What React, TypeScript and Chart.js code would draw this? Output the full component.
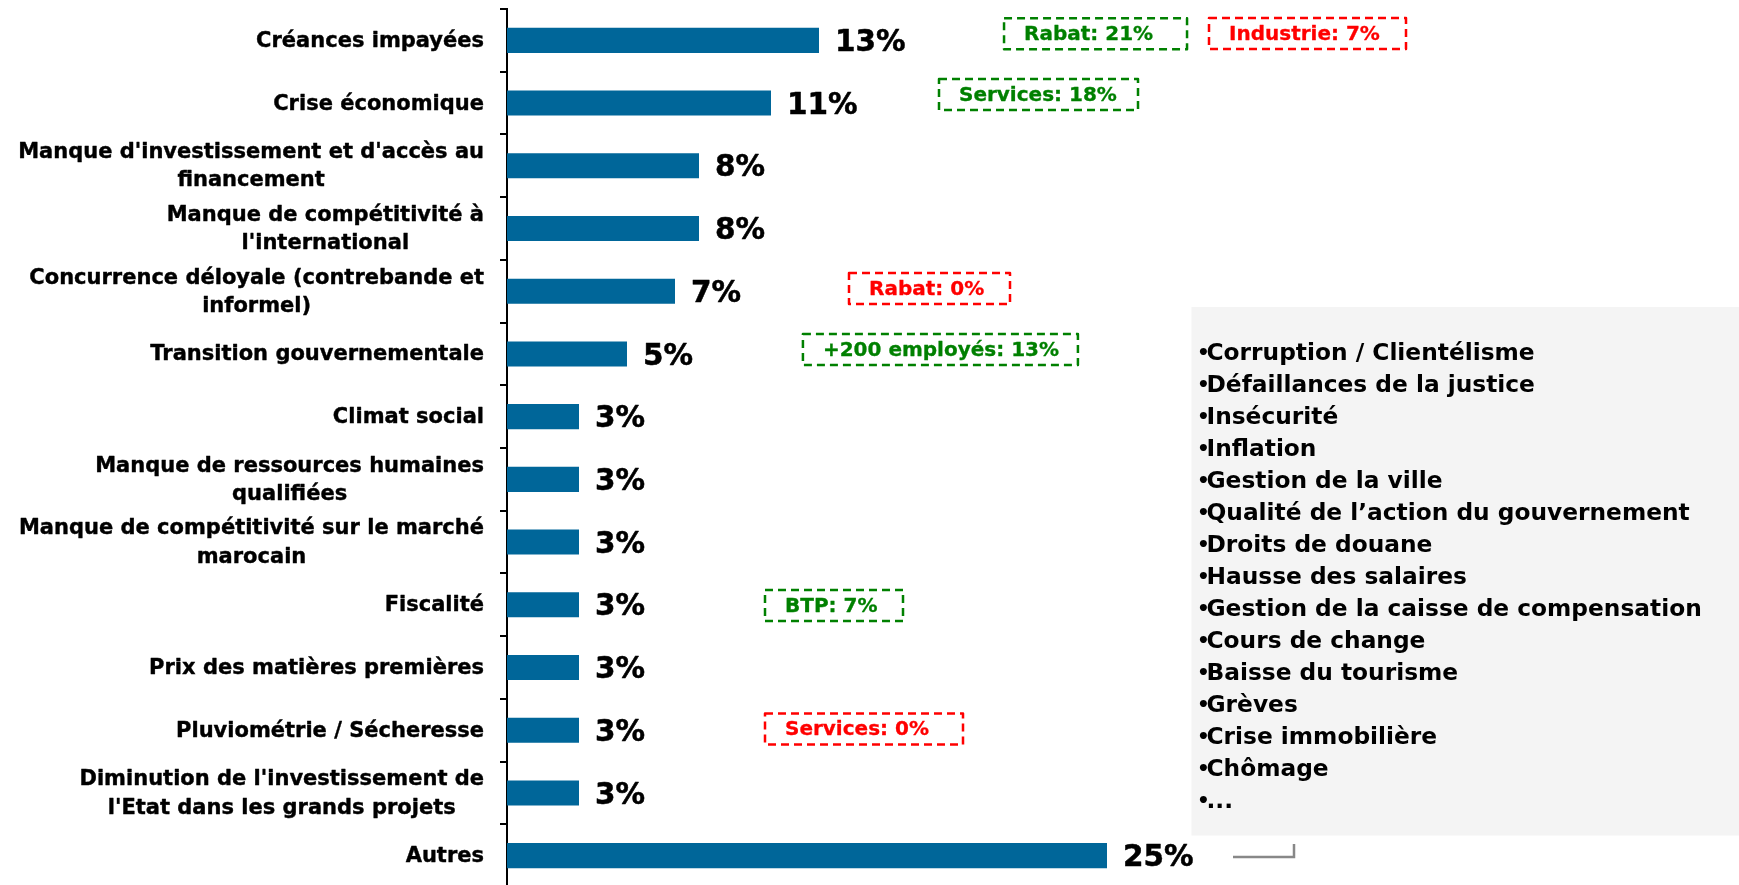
import React, { useEffect, useRef } from "react";
import { Chart, registerables } from "chart.js";

Chart.register(...registerables);

const categories: string[][] = [
  ["Créances impayées"],
  ["Crise économique"],
  ["Manque d'investissement et d'accès au", "financement"],
  ["Manque de compétitivité à", "l'international"],
  ["Concurrence déloyale (contrebande et", "informel)"],
  ["Transition gouvernementale"],
  ["Climat social"],
  ["Manque de ressources humaines", "qualifiées"],
  ["Manque de compétitivité sur le marché", "marocain"],
  ["Fiscalité"],
  ["Prix des matières premières"],
  ["Pluviométrie / Sécheresse"],
  ["Diminution de l'investissement de", "l'Etat dans les grands projets"],
  ["Autres"],
];

const values: number[] = [13, 11, 8, 8, 7, 5, 3, 3, 3, 3, 3, 3, 3, 25];

const calloutTexts: string[] = [
  "Rabat: 21%",
  "Industrie: 7%",
  "Services: 18%",
  "Rabat: 0%",
  "+200 employés: 13%",
  "BTP: 7%",
  "Services: 0%",
];
const calloutPositive: boolean[] = [true, false, true, false, true, true, false];
const calloutRows: number[] = [0, 0, 1, 4, 5, 9, 11];

const otherReasons: string[] = [
  "Corruption / Clientélisme",
  "Défaillances de la justice",
  "Insécurité",
  "Inflation",
  "Gestion de la ville",
  "Qualité de l’action du gouvernement",
  "Droits de douane",
  "Hausse des salaires",
  "Gestion de la caisse de compensation",
  "Cours de change",
  "Baisse du tourisme",
  "Grèves",
  "Crise immobilière",
  "Chômage",
  "...",
];

// layout of callout boxes (x start in axis units, width px, vertical offset px)
const calloutLayout = [
  { x: 20.71, w: 183, dy: -6.7 },
  { x: 29.25, w: 197, dy: -6.9 },
  { x: 18.0, w: 199, dy: -8.6 },
  { x: 14.25, w: 161, dy: -2.7 },
  { x: 12.33, w: 275, dy: -4.4 },
  { x: 10.75, w: 138, dy: 0.7 },
  { x: 10.75, w: 198, dy: -1.2 },
];

const FONT = "'DejaVu Sans', Verdana, sans-serif";
const BAR_COLOR = "#006699";

function boldText(ctx: any, t: string, x: number, y: number, w: number) {
  ctx.fillText(t, x, y);
  if (w > 0) {
    ctx.lineWidth = w;
    ctx.strokeStyle = ctx.fillStyle;
    ctx.strokeText(t, x, y);
  }
}

const overlayPlugin = {
  id: "overlay",
  beforeDatasetsDraw(chart: any) {
    const ctx = chart.ctx;
    ctx.save();
    // grey box with other reasons
    ctx.fillStyle = "#f4f4f4";
    ctx.fillRect(1191.5, 307, chart.width - 1191.5, 835.5 - 307);
    ctx.fillStyle = "#000";
    ctx.textAlign = "left";
    ctx.textBaseline = "middle";
    otherReasons.forEach((t, i) => {
      const y = 354 + i * 32;
      ctx.font = `bold 20px ${FONT}`;
      ctx.fillText("•", 1197, y);
      ctx.font = `bold 23.3px ${FONT}`;
      ctx.fillText(t, 1206.5, y);
    });
    // small grey bracket
    ctx.strokeStyle = "#888";
    ctx.lineWidth = 2.5;
    ctx.beginPath();
    ctx.moveTo(1233, 857);
    ctx.lineTo(1294, 857);
    ctx.lineTo(1294, 844);
    ctx.stroke();
    ctx.restore();
  },
  afterDraw(chart: any) {
    const ctx = chart.ctx;
    const yScale = chart.scales.y;
    const xScale = chart.scales.x;
    ctx.save();
    // category labels: block right-aligned, lines centered
    ctx.fillStyle = "#000";
    ctx.font = `bold 21px ${FONT}`;
    ctx.textBaseline = "middle";
    ctx.textAlign = "center";
    ctx.lineJoin = "round";
    const right = yScale.right - 23;
    const lh = 28.3;
    categories.forEach((lines, i) => {
      const cy = yScale.getPixelForValue(i) + 1;
      const widest = Math.max(...lines.map((l) => ctx.measureText(l).width));
      const cx = right - widest / 2;
      const y0 = cy - ((lines.length - 1) * lh) / 2;
      lines.forEach((l, j) => boldText(ctx, l, cx, y0 + j * lh, 0.4));
    });
    // value labels
    ctx.font = `bold 29.5px ${FONT}`;
    ctx.textAlign = "left";
    const meta = chart.getDatasetMeta(0);
    meta.data.forEach((bar: any, i: number) => {
      boldText(ctx, values[i] + "%", bar.x + 16, bar.y + 3, 0.5);
    });
    // callouts
    ctx.font = `bold 20px ${FONT}`;
    calloutTexts.forEach((t, i) => {
      const lay = calloutLayout[i];
      const color = calloutPositive[i] ? "#008000" : "#ff0000";
      const x = xScale.getPixelForValue(lay.x);
      const cy = yScale.getPixelForValue(calloutRows[i]) + lay.dy;
      const h = 31;
      ctx.strokeStyle = color;
      ctx.lineWidth = 2.5;
      ctx.setLineDash([8, 5]);
      ctx.strokeRect(x, cy - h / 2, lay.w, h);
      ctx.setLineDash([]);
      ctx.fillStyle = color;
      ctx.textAlign = "left";
      boldText(ctx, t, x + 20, cy + 1, 0.3);
    });
    ctx.restore();
  },
};

export default function App() {
  const ref = useRef<HTMLCanvasElement | null>(null);
  useEffect(() => {
    if (!ref.current) return;
    const chart = new Chart(ref.current, {
      type: "bar",
      data: {
        labels: categories.map((c) => c.join(" ")),
        datasets: [
          {
            data: values,
            backgroundColor: BAR_COLOR,
            borderWidth: 0,
            barPercentage: 0.4,
            categoryPercentage: 1,
          },
        ],
      },
      options: {
        indexAxis: "y",
        responsive: false,
        animation: false,
        layout: { padding: { top: 9, right: 32, bottom: 0, left: 0 } },
        plugins: { legend: { display: false }, tooltip: { enabled: false } },
        scales: {
          x: { display: false, min: 0, max: 50 },
          y: {
            grid: {
              display: true,
              drawOnChartArea: false,
              drawTicks: true,
              tickLength: 7,
              color: "#000",
              lineWidth: 2,
              offset: true,
            },
            border: { display: true, color: "#000", width: 2 },
            ticks: { display: false },
            afterFit: (s: any) => {
              s.width = 507;
            },
          },
        },
      },
      plugins: [overlayPlugin],
    } as any);
    return () => chart.destroy();
  }, []);
  return (
    <div style={{ position: "absolute", left: 0, top: 0, width: 1739, height: 885, overflow: "hidden", background: "#fff" }}>
      <canvas ref={ref} width={1739} height={887} style={{ display: "block" }} />
    </div>
  );
}
